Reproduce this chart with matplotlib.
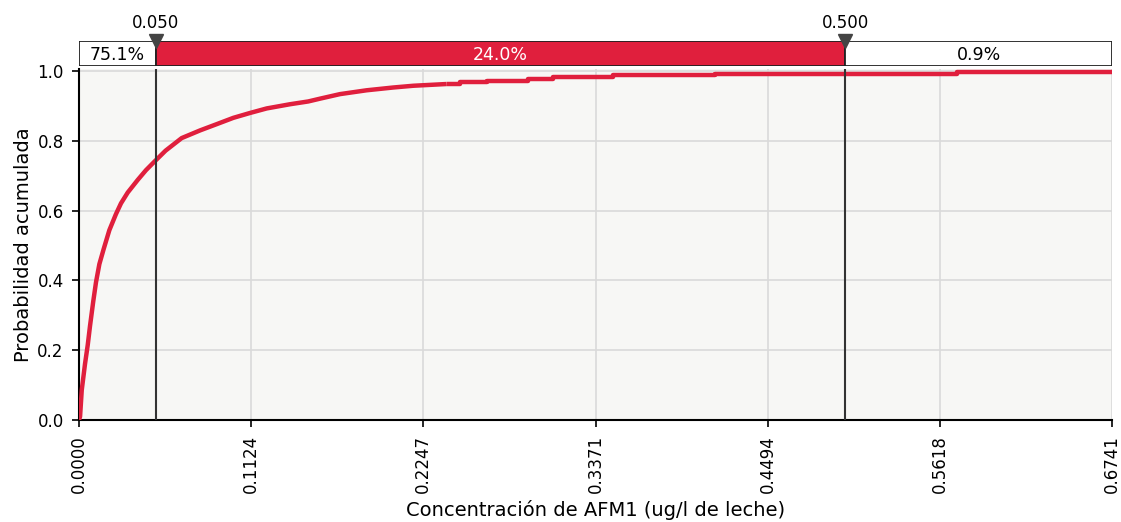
import numpy as np
import matplotlib.pyplot as plt

# curva de probabilidad acumulada
conc = [0.0, 0.0007, 0.0018, 0.0039, 0.0057, 0.0072, 0.0093, 0.0111, 0.0133,
        0.0161, 0.0198, 0.0241, 0.0274, 0.0318, 0.0383, 0.0437, 0.0491, 0.0565,
        0.0670, 0.0790, 0.0899, 0.1007, 0.1116, 0.1225, 0.1377, 0.1496, 0.1573,
        0.1703, 0.1877, 0.2051, 0.2182, 0.2400]
prob = [0.0, 0.010, 0.086, 0.160, 0.215, 0.270, 0.340, 0.395, 0.447,
        0.490, 0.544, 0.590, 0.621, 0.652, 0.688, 0.716, 0.740, 0.772,
        0.808, 0.830, 0.848, 0.866, 0.880, 0.893, 0.905, 0.913, 0.921,
        0.934, 0.945, 0.953, 0.958, 0.963]
# cola de la distribucion (escalones)
conc_cola = [0.2400, 0.2486, 0.2662, 0.2930, 0.3093, 0.3485, 0.4150, 0.5730, 0.6741]
prob_cola = [0.963, 0.9675, 0.972, 0.977, 0.984, 0.989, 0.991, 0.9966, 0.9966]

limites = [0.05, 0.5]
porcentajes = ["75.1%", "24.0%", "0.9%"]
xticks = [0.0, 0.1124, 0.2247, 0.3371, 0.4494, 0.5618, 0.6741]
yticks = [0.0, 0.2, 0.4, 0.6, 0.8, 1.0]

rojo = "#e01f3d"
xmax = xticks[-1]

fig = plt.figure(figsize=(11.21, 5.22), dpi=100)
W, H = 1121, 522
ax = fig.add_axes([79 / W, 1 - 420 / H, (1112 - 79) / W, (420 - 69) / H])
axb = fig.add_axes([79 / W, 1 - 66 / H, (1112 - 79) / W, 25 / H])

ax.set_facecolor("#f7f7f5")
ax.plot(conc, prob, color=rojo, lw=3.2, solid_capstyle="butt",
        solid_joinstyle="round", zorder=3)
ax.plot(conc_cola, prob_cola, color=rojo, lw=3.2, drawstyle="steps-post",
        solid_capstyle="butt", zorder=3)
for lim in limites:
    ax.axvline(lim, color="#333333", lw=1.5, zorder=4)

ax.set_xlim(0, xmax)
ax.set_ylim(0, 1.006)
ax.set_xticks(xticks)
ax.set_xticklabels(["%.4f" % t for t in xticks], rotation=90, fontsize=12)
ax.set_yticks(yticks)
ax.set_yticklabels(["%.1f" % t for t in yticks], fontsize=12)
ax.grid(True, color="#dadada", lw=1.2, zorder=0)
ax.set_axisbelow(True)
for s in ["top", "right"]:
    ax.spines[s].set_visible(False)
for s in ["left", "bottom"]:
    ax.spines[s].set_linewidth(1.5)
ax.tick_params(direction="out", length=5, width=1.2, pad=6)
ax.set_xlabel("Concentración de AFM1 (ug/l de leche)", fontsize=14, labelpad=5)
ax.set_ylabel("Probabilidad acumulada", fontsize=14, labelpad=3)

# barra superior con los porcentajes
bordes = [0.0] + limites + [xmax]
for i in range(3):
    color = rojo if i == 1 else "white"
    axb.barh(0.5, bordes[i + 1] - bordes[i], left=bordes[i], height=1.0,
             color=color, edgecolor="#222222", lw=1.3)
    axb.text((bordes[i] + bordes[i + 1]) / 2, 0.45, porcentajes[i],
             ha="center", va="center", fontsize=12.5,
             color="white" if i == 1 else "black")
axb.set_xlim(0, xmax)
axb.set_ylim(0, 1)
axb.axis("off")
for lim in limites:
    axb.plot([lim], [1.02], marker="v", color="#444444", markersize=10,
             clip_on=False, zorder=5)
    axb.text(lim, 1.72, "%.3f" % lim, ha="center", va="center", fontsize=12)

fig.savefig("out.png", dpi=100)
